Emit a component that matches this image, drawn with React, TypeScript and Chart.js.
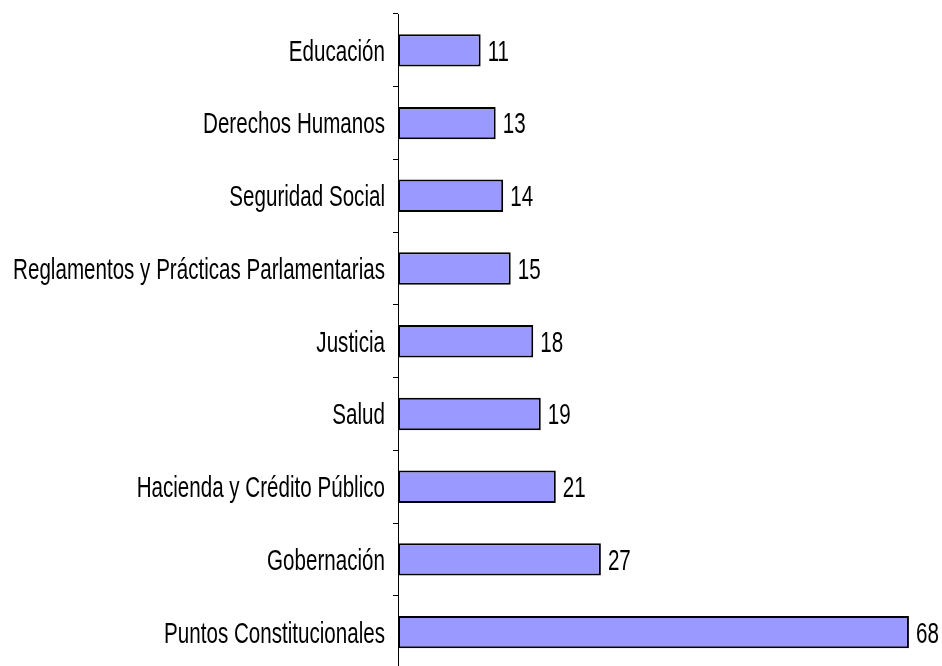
import React, { useEffect, useRef } from "react";
import { Chart, registerables } from "chart.js";

Chart.register(...registerables);

const categories: string[] = [
  "Educación",
  "Derechos Humanos",
  "Seguridad Social",
  "Reglamentos y Prácticas Parlamentarias",
  "Justicia",
  "Salud",
  "Hacienda y Crédito Público",
  "Gobernación",
  "Puntos Constitucionales",
];

const values: number[] = [11, 13, 14, 15, 18, 19, 21, 27, 68];

const FONT = '"Liberation Sans", Arial, sans-serif';
const FONT_SIZE = 29;
const SQUEEZE = 0.71;

function drawSqueezed(ctx: CanvasRenderingContext2D, text: string, x: number, y: number, align: CanvasTextAlign) {
  ctx.save();
  ctx.translate(x, y);
  ctx.scale(SQUEEZE, 1);
  ctx.textAlign = align;
  ctx.fillText(text, 0, 0);
  ctx.restore();
}

const textPlugin = {
  id: "textPlugin",
  afterDatasetsDraw(chart: any) {
    const ctx = chart.ctx as CanvasRenderingContext2D;
    const meta = chart.getDatasetMeta(0);
    const yScale = chart.scales.y;
    ctx.save();
    ctx.fillStyle = "#000";
    ctx.font = `${FONT_SIZE}px ${FONT}`;
    ctx.textBaseline = "alphabetic";
    const capHalf = (FONT_SIZE * 0.716) / 2;
    categories.forEach((label, i) => {
      const y = yScale.getPixelForValue(i);
      drawSqueezed(ctx, label, yScale.right - 13, y + capHalf, "right");
    });
    meta.data.forEach((bar: any, i: number) => {
      drawSqueezed(ctx, String(values[i]), bar.x + 7, yScale.getPixelForValue(i) + capHalf, "left");
    });
    ctx.restore();
  },
};

export default function App() {
  const ref = useRef<HTMLCanvasElement | null>(null);

  useEffect(() => {
    if (!ref.current) return;
    const chart = new Chart(ref.current, {
      type: "bar",
      data: {
        labels: categories,
        datasets: [
          {
            data: values,
            backgroundColor: "#9999FF",
            borderColor: "#000000",
            borderWidth: 2,
            borderSkipped: false,
            categoryPercentage: 0.5,
            barPercentage: 0.89,
          },
        ],
      },
      options: {
        indexAxis: "y",
        responsive: false,
        animation: false,
        devicePixelRatio: 1,
        layout: { padding: { top: 14, bottom: 1.5, left: 0, right: 3 } },
        plugins: {
          legend: { display: false },
          tooltip: { enabled: false },
        },
        scales: {
          x: {
            display: false,
            min: 0,
            max: 72,
          },
          y: {
            afterFit: (scale: any) => {
              scale.width = 398;
            },
            border: { display: true, color: "#000", width: 1 },
            grid: {
              display: true,
              drawOnChartArea: false,
              drawTicks: true,
              tickLength: 5,
              color: "#000",
              offset: true,
            },
            ticks: {
              display: false,
            },
          },
        },
      },
      plugins: [textPlugin],
    });
    return () => chart.destroy();
  }, []);

  return (
    <div
      style={{
        position: "fixed",
        left: 0,
        top: 0,
        width: 942,
        height: 666,
        overflow: "hidden",
        background: "#fff",
      }}
    >
      <canvas ref={ref} width={942} height={670} style={{ display: "block" }} />
    </div>
  );
}
